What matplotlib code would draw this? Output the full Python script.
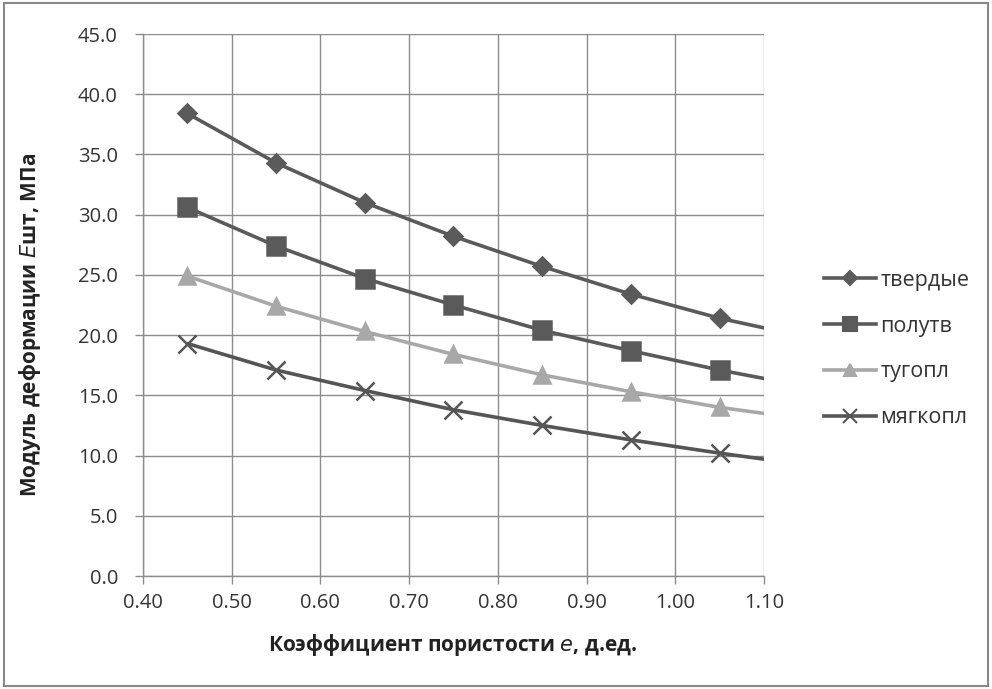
import matplotlib
matplotlib.use("Agg")
import matplotlib.pyplot as plt
from matplotlib.lines import Line2D
from matplotlib.patches import Rectangle

plt.rcParams['font.family'] = ['Open Sans', 'DejaVu Sans']

# Porosity coefficient values where measurements were taken
porosity = [0.45, 0.55, 0.65, 0.75, 0.85, 0.95, 1.05]
# End of the fitted curve
porosity_end = 1.10

series_names = ["твердые", "полутв", "тугопл", "мягкопл"]
tverdye = [38.4, 34.3, 31.0, 28.2, 25.7, 23.4, 21.4]
polutv = [30.6, 27.4, 24.7, 22.5, 20.4, 18.7, 17.1]
tugopl = [24.9, 22.4, 20.3, 18.4, 16.7, 15.3, 14.0]
myagkopl = [19.3, 17.1, 15.4, 13.8, 12.5, 11.3, 10.2]
# Curve values at the right edge (e = 1.10)
end_values = [20.6, 16.4, 13.5, 9.7]

x_ticks = [0.40, 0.50, 0.60, 0.70, 0.80, 0.90, 1.00, 1.10]
y_ticks = [0, 5, 10, 15, 20, 25, 30, 35, 40, 45]

styles = [
    dict(color="#5a5a5a", marker="D", ms=9, mec="#5a5a5a"),
    dict(color="#5a5a5a", marker="s", ms=13, mec="#5a5a5a"),
    dict(color="#a8a8a8", marker="^", ms=12, mec="#a8a8a8"),
    dict(color="#555555", marker="x", ms=13, mec="#555555"),
]

W, H = 992, 689
fig = plt.figure(figsize=(W / 100, H / 100), dpi=100)
fig.patch.set_facecolor("white")
ax = fig.add_axes([143 / W, 1 - 576 / H, (764 - 143) / W, (576 - 34) / H])

all_series = [tverdye, polutv, tugopl, myagkopl]
handles = []
for name, vals, end, st in zip(series_names, all_series, end_values, styles):
    ax.plot(porosity + [porosity_end], vals + [end], color=st["color"], lw=2.6,
            solid_capstyle="round", zorder=3)
    ax.plot(porosity, vals, linestyle="none", marker=st["marker"], ms=st["ms"],
            color=st["color"], mec=st["mec"], mew=1.8, zorder=4)
    handles.append(Line2D([], [], color=st["color"], lw=2.6, marker=st["marker"],
                          ms=st["ms"] * 0.75, mec=st["mec"], mew=1.5, label=name))

ax.set_xlim(0.40, 1.10)
ax.set_ylim(0, 45)
ax.set_xticks(x_ticks)
ax.set_yticks(y_ticks)
ax.set_xticklabels([f"{v:.2f}" for v in x_ticks])
ax.set_yticklabels([f"{v:.1f}" for v in y_ticks])
ax.grid(True, color="#8c8c8c", lw=1.0)
ax.set_axisbelow(True)
for s in ["top", "right"]:
    ax.spines[s].set_visible(False)
for s in ["left", "bottom"]:
    ax.spines[s].set_color("#8c8c8c")
    ax.spines[s].set_linewidth(1.0)
ax.tick_params(axis="both", colors="#8c8c8c", length=6, width=1.0,
               labelsize=14.5, labelcolor="#333333")
ax.tick_params(axis="y", pad=12)
ax.tick_params(axis="x", pad=6)

fig.text(453 / W, 1 - 645 / H, "Коэффициент пористости $\\mathit{e}$, д.ед.",
         fontsize=15, fontweight="bold", color="#222222", ha="center", va="center")
fig.text(30 / W, 1 - 325 / H, "Модуль деформации $\\mathit{E}$шт, МПа",
         fontsize=15, fontweight="bold", color="#222222", ha="center", va="center",
         rotation=90)

leg = fig.legend(handles=handles, loc="center left",
                 bbox_to_anchor=(805 / W, 1 - 349 / H),
                 frameon=False, fontsize=15.5, handlelength=2.4, labelspacing=1.15,
                 handletextpad=0.2, labelcolor="#333333")

# Outer frame around the chart
fig.add_artist(Rectangle((0.004, 0.004), 0.992, 0.992, transform=fig.transFigure,
                         fill=False, edgecolor="#888888", lw=1.5))

fig.savefig("out.png", dpi=100, facecolor="white")
